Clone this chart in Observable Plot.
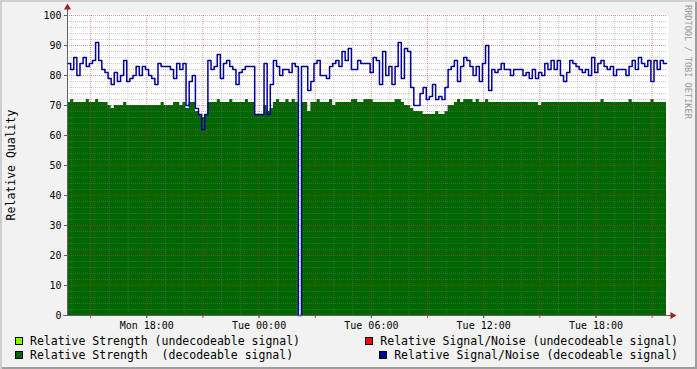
<!DOCTYPE html>
<html><head><meta charset="utf-8">
<script src="https://cdn.jsdelivr.net/npm/d3@7"></script>
<script src="https://cdn.jsdelivr.net/npm/@observablehq/plot@0.6"></script>
<style>
body{margin:0;background:#fff;}
#chart{position:relative;width:697px;height:369px;background:#f2f2f2;box-shadow:inset 2px 2px 0 #cfcfcf, inset -2px -2px 0 #9e9e9e;font-family:"DejaVu Sans Mono",monospace;overflow:hidden;color:#000;}
#chart svg{position:absolute;left:0;top:0;}
.ylab{position:absolute;left:11px;top:165px;transform:translate(-50%,-50%) rotate(-90deg);font-size:11.5px;white-space:pre;}
.wm{position:absolute;left:688px;top:5px;transform-origin:0 0;transform:rotate(90deg) translate(0,-50%);font-size:8.6px;color:#9a9a9a;white-space:pre;}
.leg{position:absolute;height:12px;display:flex;align-items:center;font-size:11.5px;white-space:pre;}
.sw{display:inline-block;width:6px;height:6px;border:1px solid #000;margin-right:7px;}
</style></head><body><div id="chart"></div>
<script>
const startTime = "2024-01-01T13:46:00Z";
const stepMinutes = 10;
const snrDecodable = [
 84,82,86,80,84,86,83,84,85,91,85,82,81,79,77,81,78,80,85,78,79,80,83,80,83,82,80,79,77,84,83,83,
 83,82,79,84,82,84,70,78,80,69,67,62,67,85,82,83,87,79,84,85,83,82,77,81,82,83,83,83,67,67,67,84,
 67,77,85,83,80,82,82,81,84,83,0,83,83,75,78,84,85,80,80,79,83,84,85,83,88,85,89,82,82,85,84,84,
 84,81,86,85,77,88,80,83,77,83,91,79,89,88,76,70,70,74,76,72,73,77,72,73,72,76,82,83,85,78,83,86,
 85,83,80,83,78,84,90,75,82,81,82,84,82,82,80,82,82,82,80,81,79,82,79,81,80,84,82,85,82,85,80,78,
 81,85,84,83,82,81,82,80,86,81,84,85,83,82,83,80,82,82,82,80,83,85,82,86,84,83,85,78,85,82,85,84
];
const strengthDecodable = [
 71,72,71,71,71,71,72,71,71,72,71,71,71,70,69,70,70,70,71,70,70,70,70,70,70,70,70,70,70,70,71,70,
 70,70,71,71,70,71,69,71,71,68,67,66,67,71,71,71,72,71,71,71,72,71,71,71,71,72,71,71,67,67,67,70,
 68,69,71,72,71,71,72,71,72,71,0,71,71,68,71,71,72,71,71,71,72,70,71,71,71,71,71,72,72,71,71,72,
 72,72,71,71,71,71,71,71,71,72,72,71,70,70,69,68,68,68,67,67,67,67,68,67,67,68,70,70,71,72,71,72,
 72,72,71,72,71,71,72,71,71,71,71,71,71,71,71,71,71,71,71,71,71,71,71,70,71,71,71,71,71,71,71,71,
 71,71,71,71,71,71,71,71,71,71,71,72,71,71,71,71,71,71,71,71,72,71,71,71,71,71,71,72,71,71,71,71
];
const labelTicks = ["2024-01-01T18:00:00Z","2024-01-02T00:00:00Z","2024-01-02T06:00:00Z","2024-01-02T12:00:00Z","2024-01-02T18:00:00Z"];
const yTicks = [0,10,20,30,40,50,60,70,80,90,100];
const legendNames = ["Relative Strength (undecodeable signal)","Relative Strength  (decodeable signal)","Relative Signal/Noise (undecodeable signal)","Relative Signal/Noise (decodeable signal)"];
const legendColors = ["#80ff00","#006600","#ff0000","#000099"];
const yTitle = "Relative Quality";
const watermark = "RRDTOOL / TOBI OETIKER";

const t0 = new Date(startTime);
const ms = stepMinutes * 60000;
const rows = snrDecodable.map((v, i) => ({t: new Date(+t0 + i * ms), snr: v, str: strengthDecodable[i]}));
const tEnd = new Date(+t0 + snrDecodable.length * ms);
rows.push({t: tEnd, snr: snrDecodable[snrDecodable.length - 1], str: strengthDecodable[strengthDecodable.length - 1]});
const hours = d3.utcHour.range(t0, tEnd);
const majorX = hours.filter(d => d.getUTCHours() % 3 === 0);
const minorX = hours.filter(d => d.getUTCHours() % 3 !== 0);
const minorY = d3.range(2, 100, 2).filter(v => v % 10 !== 0);
const majorY = yTicks.filter(v => v > 0);
const labelDates = labelTicks.map(s => new Date(s));

const svg = Plot.plot({
  width: 697, height: 335,
  marginLeft: 67, marginRight: 31, marginTop: 15, marginBottom: 20,
  x: {type: "utc", domain: [t0, tEnd]},
  y: {domain: [0, 100]},
  style: {background: "transparent", fontFamily: "'DejaVu Sans Mono', monospace", fontSize: "10px", color: "#000", overflow: "visible"},
  marks: [
    Plot.frame({fill: "white", stroke: "none", insetTop: -2, insetRight: -2}),
    Plot.areaY(rows, {x: "t", y: "str", curve: "step-after", fill: "#006600"}),
    Plot.ruleY(minorY, {stroke: "#808080", strokeOpacity: 0.4, strokeDasharray: "1,1"}),
    Plot.ruleX(minorX, {stroke: "#808080", strokeOpacity: 0.4, strokeDasharray: "1,1"}),
    Plot.ruleY(majorY, {stroke: "#d03030", strokeOpacity: 0.5, strokeDasharray: "1,1"}),
    Plot.ruleX(majorX, {stroke: "#d03030", strokeOpacity: 0.5, strokeDasharray: "1,1"}),
    Plot.lineY(rows, {x: "t", y: "snr", curve: "step-after", stroke: "#000099", strokeWidth: 1.5}),
    Plot.ruleX([t0], {stroke: "#606060", insetTop: -7}),
    Plot.ruleY([0], {stroke: "#606060", insetLeft: -4, insetRight: -5}),
    Plot.ruleX(majorX, {stroke: "#c04040", insetTop: 300, insetBottom: -3}),
    Plot.dot([{t: t0, v: 100}], {x: "t", y: "v", symbol: "triangle", r: 2.6, fill: "#a02020", stroke: "none", dy: -8}),
    Plot.dot([{t: tEnd, v: 0}], {x: "t", y: "v", symbol: "triangle", r: 2.6, fill: "#a02020", stroke: "none", dx: 6, rotate: 90}),
    Plot.axisY(yTicks, {tickSize: 3, tickPadding: 3, label: null, stroke: "#606060"}),
    Plot.axisX(labelDates, {tickSize: 3, tickPadding: 3, label: null, tickFormat: d3.utcFormat("%a %H:%M"), stroke: "#606060"})
  ]
});
const chart = document.getElementById("chart");
chart.appendChild(svg);

const yl = document.createElement("div");
yl.className = "ylab"; yl.textContent = yTitle; chart.appendChild(yl);
const wm = document.createElement("div");
wm.className = "wm"; wm.textContent = watermark; chart.appendChild(wm);

const legPos = [
  {left: "15px", top: "335px"},
  {left: "15px", top: "348.5px"},
  {right: "19px", top: "335px"},
  {right: "19px", top: "348.5px"}
];
legendNames.forEach((name, i) => {
  const d = document.createElement("div");
  d.className = "leg";
  Object.assign(d.style, legPos[i]);
  const s = document.createElement("span");
  s.className = "sw"; s.style.background = legendColors[i];
  d.appendChild(s);
  d.appendChild(document.createTextNode(name));
  chart.appendChild(d);
});
</script></body></html>
